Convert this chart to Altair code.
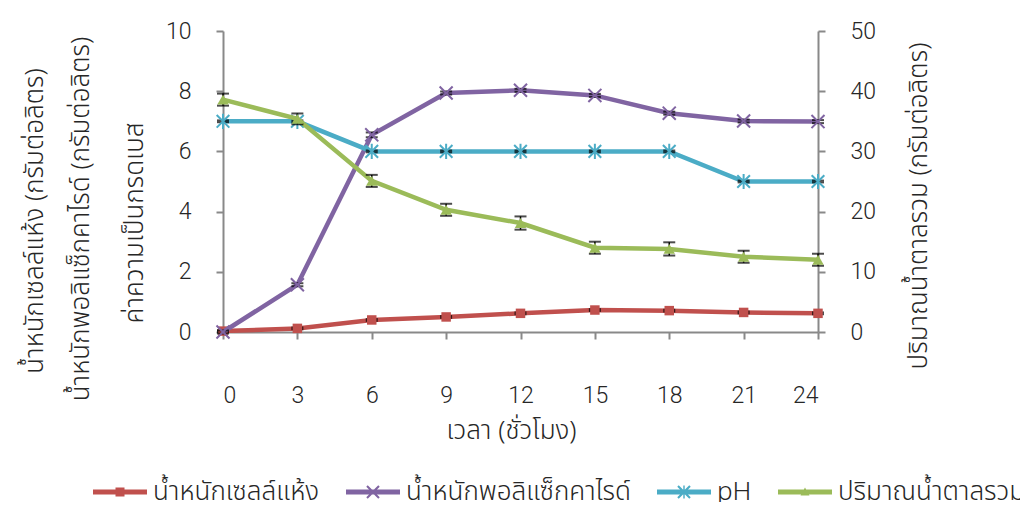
import altair as alt
import pandas as pd

# ---------------- data ----------------
hours = [0, 3, 6, 9, 12, 15, 18, 21, 24]
dry_cell = [0.03, 0.12, 0.40, 0.50, 0.62, 0.73, 0.71, 0.65, 0.62]
dry_cell_err = [0.03, 0.03, 0.03, 0.03, 0.03, 0.03, 0.03, 0.03, 0.03]
polysaccharide = [0.0, 1.57, 6.55, 7.94, 8.03, 7.86, 7.27, 7.01, 6.99]
polysaccharide_err = [0.05, 0.05, 0.08, 0.05, 0.05, 0.05, 0.05, 0.05, 0.05]
ph = [7, 7, 6, 6, 6, 6, 6, 5, 5]
ph_err = [0.03, 0.03, 0.03, 0.03, 0.03, 0.03, 0.03, 0.03, 0.03]
sugar = [38.6, 35.4, 25.1, 20.3, 18.1, 14.0, 13.8, 12.5, 12.0]
sugar_err = [1.0, 0.9, 1.0, 1.0, 1.1, 1.0, 1.1, 1.0, 1.0]

series_names = ["น้ำหนักเซลล์แห้ง", "น้ำหนักพอลิแซ็กคาไรด์", "pH", "ปริมาณน้ำตาลรวม"]
series_colors = ["#C0504D", "#8064A2", "#4BACC6", "#9BBB59"]

left_ticks = [0, 2, 4, 6, 8, 10]
right_ticks = [0, 10, 20, 30, 40, 50]
x_title = "เวลา (ชั่วโมง)"
left_titles = [
    "น้ำหนักเซลล์แห้ง (กรัมต่อลิตร)",
    "น้ำหนักพอลิแซ็กคาไรด์ (กรัมต่อลิตร)",
    "ค่าความเป็นกรดเบส",
]
right_title = "ปริมาณน้ำตาลรวม (กรัมต่อลิตร)"

# ---------------- table ----------------
rows = []
for name, vals, errs in zip(series_names,
                            [dry_cell, polysaccharide, ph, sugar],
                            [dry_cell_err, polysaccharide_err, ph_err, sugar_err]):
    for t, v, e in zip(hours, vals, errs):
        rows.append({"series": name, "hour": t, "value": v, "lo": v - e, "hi": v + e})
df = pd.DataFrame(rows)

THAI = "Noto Sans Thai, Loma, Garuda, Norasi, Noto Sans, sans-serif"
NUM = "Roboto, Liberation Sans, Arial, sans-serif"
AXIS_GRAY = "#898989"
TEXT = "#262626"
THAI_SIZE = 26
THAI_WEIGHT = 300
NUM_SIZE = 23

X_PATH = "M-1,-1L1,1M-1,1L1,-1"
AST_PATH = "M-1,-1L1,1M-1,1L1,-1M0,-1.2L0,1.2"

# legend symbols: filled line bar + filled marker
LINE_BAR = "M-4.5,-0.42L4.5,-0.42L4.5,0.42L-4.5,0.42Z"
d = 0.12
XBARS = (f"M{-1+d},{-1-d}L{1+d},{1-d}L{1-d},{1+d}L{-1-d},{-1+d}Z"
         f"M{-1-d},{1-d}L{1-d},{-1-d}L{1+d},{-1+d}L{-1+d},{1+d}Z")
legend_paths = [
    LINE_BAR + "M-0.75,-0.75L0.75,-0.75L0.75,0.75L-0.75,0.75Z",
    LINE_BAR + XBARS,
    LINE_BAR + XBARS + "M-0.12,-1.1L0.12,-1.1L0.12,1.1L-0.12,1.1Z",
    LINE_BAR + "M0,-0.75L0.75,0.6L-0.75,0.6Z",
]

x_enc = alt.X(
    "hour:Q",
    scale=alt.Scale(domain=[0, 24], nice=False, zero=False),
    axis=alt.Axis(
        values=hours, title=x_title, grid=False,
        domainColor=AXIS_GRAY, domainWidth=2, tickColor=AXIS_GRAY, tickWidth=2,
        tickSize=7, labelPadding=45, labelFont=NUM, labelFontSize=NUM_SIZE,
        labelFontWeight=300, labelColor=TEXT, titleFont=THAI, titleFontSize=THAI_SIZE,
        titleFontWeight=THAI_WEIGHT, titleColor=TEXT, titlePadding=10, titleX=288,
    ),
)


def yaxis(ticks, orient):
    return alt.Axis(
        values=ticks, title=None, grid=False, orient=orient,
        domainColor=AXIS_GRAY, domainWidth=2, tickColor=AXIS_GRAY, tickWidth=2,
        tickSize=7, labelPadding=25, labelFont=NUM, labelFontSize=NUM_SIZE,
        labelFontWeight=300, labelColor=TEXT,
    )


def series_layers(idx, shape, filled, size, ydomain, axis):
    name = series_names[idx]
    col = series_colors[idx]
    base = alt.Chart(df).transform_filter(alt.datum.series == name)
    y_main = alt.Y("value:Q", scale=alt.Scale(domain=ydomain, nice=False), axis=axis)
    err_rule = base.mark_rule(color="black", strokeWidth=1.5).encode(
        x=x_enc, y=alt.Y("lo:Q"), y2="hi:Q")
    cap_lo = base.mark_tick(orient="horizontal", size=12, thickness=2, color="black").encode(
        x=x_enc, y=alt.Y("lo:Q"))
    cap_hi = base.mark_tick(orient="horizontal", size=12, thickness=2, color="black").encode(
        x=x_enc, y=alt.Y("hi:Q"))
    line = base.mark_line(strokeWidth=4.5, color=col).encode(x=x_enc, y=y_main)
    if filled:
        pts = base.mark_point(filled=True, opacity=1, size=size, shape=shape, color=col)
    else:
        pts = base.mark_point(filled=False, opacity=1, size=size, shape=shape,
                              strokeWidth=2, color=col)
    pts = pts.encode(x=x_enc, y=alt.Y("value:Q"))
    return [line, err_rule, cap_lo, cap_hi, pts]


left = alt.layer(
    *series_layers(0, "square", True, 90, [0, 10], yaxis(left_ticks, "left")),
    *series_layers(1, X_PATH, False, 170, [0, 10], yaxis(left_ticks, "left")),
    *series_layers(2, AST_PATH, False, 160, [0, 10], yaxis(left_ticks, "left")),
)
right = alt.layer(
    *series_layers(3, "triangle-up", True, 130, [0, 50], yaxis(right_ticks, "right")),
)

legend_def = alt.Legend(
    title=None, orient="none", legendX=-137, legendY=448, direction="horizontal",
    labelFont=THAI, labelFontSize=THAI_SIZE, labelFontWeight=THAI_WEIGHT,
    labelColor=TEXT, labelLimit=0,
    symbolSize=144, symbolStrokeWidth=0, symbolOffset=21, labelOffset=20,
    symbolOpacity=1, columnPadding=19, padding=0,
)
legend_layer = alt.Chart(df).transform_filter("false").mark_point(
    filled=True, size=144, opacity=1).encode(
    color=alt.Color("series:N", scale=alt.Scale(domain=series_names, range=series_colors),
                    legend=legend_def),
    shape=alt.Shape("series:N", scale=alt.Scale(domain=series_names, range=legend_paths),
                    legend=legend_def),
)

title_df = pd.DataFrame({"t": left_titles + [right_title]})
title_pos = [(-188, 221), (-142, 219), (-88, 223), (696, 206)]
title_layers = []
for i, (tx, ty) in enumerate(title_pos):
    title_layers.append(
        alt.Chart(title_df).transform_filter(alt.datum.t == title_df["t"][i]).mark_text(
            angle=270, align="center", baseline="middle", font=THAI, fontSize=THAI_SIZE,
            fontWeight=THAI_WEIGHT, color=TEXT).encode(
            text="t:N", x=alt.value(tx), y=alt.value(ty - 31))
    )

chart = alt.layer(left, right, legend_layer, *title_layers).resolve_scale(
    y="independent"
).properties(
    width=595, height=301,
    autosize=alt.AutoSizeParams(type="none"),
    padding={"left": 215, "top": 23, "right": 202, "bottom": 170},
).configure_view(stroke=None)

chart.save("out.html", embed_options={"renderer": "svg", "actions": False})
